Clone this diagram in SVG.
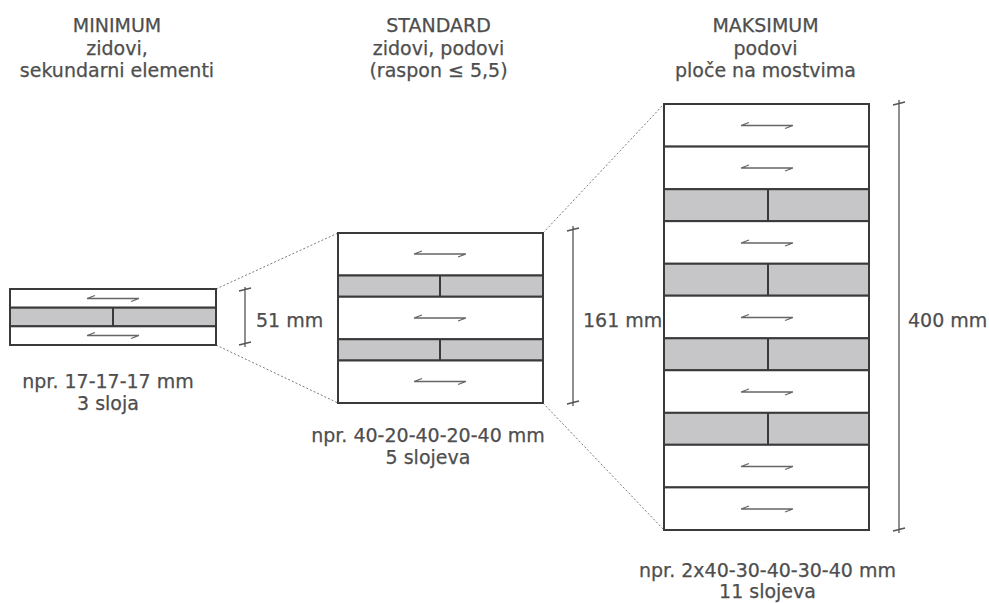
<svg xmlns="http://www.w3.org/2000/svg" width="989" height="603" viewBox="0 0 989 603">
<style>
.t{font-family:"DejaVu Sans","Liberation Sans",sans-serif;font-size:19px;fill:#4e4e4e;text-anchor:middle;stroke:#4e4e4e;stroke-width:0.25}
.ts{font-family:"DejaVu Sans","Liberation Sans",sans-serif;font-size:19px;fill:#4e4e4e;text-anchor:start;stroke:#4e4e4e;stroke-width:0.25}
.w{fill:#fff;stroke:#3a3a3a;stroke-width:2}
.g{fill:#c6c6c8;stroke:#3a3a3a;stroke-width:2}
.sep{stroke:#3a3a3a;stroke-width:2}
.arr{fill:none;stroke:#666;stroke-width:1.3}
.dim{fill:none;stroke:#555;stroke-width:1.3}
.dot{fill:none;stroke:#7a7a7a;stroke-width:1;stroke-dasharray:2 2}
</style>
<defs>
<path id="ar" class="arr" d="M-26,0 H26 M-26,0 l8,-3 M26,0 l-8,3"/>
</defs>

<g id="connectors">
<path class="dot" d="M216,289 L338,233"/>
<path class="dot" d="M216,345 L338,403"/>
<path class="dot" d="M543,233 L664,104"/>
<path class="dot" d="M543,403 L664,530"/>
</g>

<g id="minimum">
<text class="t" x="117" y="32">MINIMUM</text>
<text class="t" x="117" y="54.5">zidovi,</text>
<text class="t" x="117" y="77">sekundarni elementi</text>
<rect class="w" x="10" y="289" width="206" height="18.7"/>
<rect class="g" x="10" y="307.7" width="206" height="18.6"/>
<rect class="w" x="10" y="326.3" width="206" height="18.7"/>
<line class="sep" x1="113" y1="307.7" x2="113" y2="326.3"/>
<use href="#ar" x="113" y="298.5"/>
<use href="#ar" x="113" y="335.5"/>
<text class="t" x="108" y="388">npr. 17-17-17 mm</text>
<text class="t" x="108" y="410">3 sloja</text>
</g>

<g id="dim51">
<path class="dim" d="M245,287 V347 M239,291 L251,288 M239,345 L251,342"/>
<text class="ts" x="256" y="327">51 mm</text>
</g>

<g id="standard">
<text class="t" x="438.5" y="32">STANDARD</text>
<text class="t" x="438.5" y="54.5">zidovi, podovi</text>
<text class="t" x="438.5" y="76.5">(raspon ≤ 5,5)</text>
<rect class="w" x="338" y="233" width="205" height="42.5"/>
<rect class="g" x="338" y="275.5" width="205" height="21.25"/>
<rect class="w" x="338" y="296.75" width="205" height="42.5"/>
<rect class="g" x="338" y="339.25" width="205" height="21.25"/>
<rect class="w" x="338" y="360.5" width="205" height="42.5"/>
<line class="sep" x1="440" y1="275.5" x2="440" y2="296.75"/>
<line class="sep" x1="440" y1="339.25" x2="440" y2="360.5"/>
<use href="#ar" x="440" y="254"/>
<use href="#ar" x="440" y="318"/>
<use href="#ar" x="440" y="381.5"/>
<text class="t" x="428" y="442">npr. 40-20-40-20-40 mm</text>
<text class="t" x="428" y="464">5 slojeva</text>
</g>

<g id="dim161">
<path class="dim" d="M573,226 V406 M567,231 L579,228 M567,404 L579,401"/>
<text class="ts" x="583" y="327">161 mm</text>
</g>

<g id="maksimum">
<text class="t" x="765.5" y="32">MAKSIMUM</text>
<text class="t" x="765.5" y="54.5">podovi</text>
<text class="t" x="765.5" y="77">ploče na mostvima</text>
<rect class="w" x="664" y="104" width="205" height="42.6"/>
<rect class="w" x="664" y="146.6" width="205" height="42.6"/>
<rect class="g" x="664" y="189.2" width="205" height="31.95"/>
<rect class="w" x="664" y="221.15" width="205" height="42.6"/>
<rect class="g" x="664" y="263.75" width="205" height="31.95"/>
<rect class="w" x="664" y="295.7" width="205" height="42.6"/>
<rect class="g" x="664" y="338.3" width="205" height="31.95"/>
<rect class="w" x="664" y="370.25" width="205" height="42.6"/>
<rect class="g" x="664" y="412.85" width="205" height="31.95"/>
<rect class="w" x="664" y="444.8" width="205" height="42.6"/>
<rect class="w" x="664" y="487.4" width="205" height="42.6"/>
<line class="sep" x1="768" y1="189.2" x2="768" y2="221.15"/>
<line class="sep" x1="768" y1="263.75" x2="768" y2="295.7"/>
<line class="sep" x1="768" y1="338.3" x2="768" y2="370.25"/>
<line class="sep" x1="768" y1="412.85" x2="768" y2="444.8"/>
<use href="#ar" x="767" y="125.5"/>
<use href="#ar" x="767" y="168"/>
<use href="#ar" x="767" y="243"/>
<use href="#ar" x="767" y="317.5"/>
<use href="#ar" x="767" y="392"/>
<use href="#ar" x="767" y="466.5"/>
<use href="#ar" x="767" y="509"/>
<text class="t" x="767.5" y="577">npr. 2x40-30-40-30-40 mm</text>
<text class="t" x="767.5" y="598">11 slojeva</text>
</g>

<g id="dim400">
<path class="dim" d="M899,100 V533 M893,105 L905,102 M893,531 L905,528"/>
<text class="ts" x="908" y="327">400 mm</text>
</g>
</svg>
